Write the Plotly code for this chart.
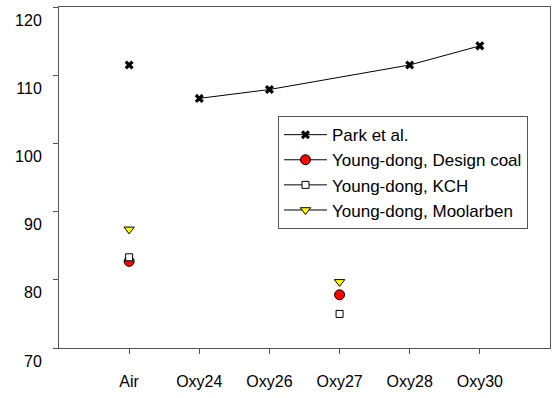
import plotly.graph_objects as go

categories = ["Air", "Oxy24", "Oxy26", "Oxy27", "Oxy28", "Oxy30"]
park = [111.5, 106.6, 107.9, None, 111.5, 114.3]
design_coal = [82.7, None, None, 77.8, None, None]
kch = [83.3, None, None, 75.0, None, None]
moolarben = [87.4, None, None, 79.7, None, None]
y_ticks = [70, 80, 90, 100, 110, 120]

FONT = "Liberation Sans, Arial, sans-serif"
fig = go.Figure()

# Park et al.: Air point shown on its own, oxy-fuel points joined by a line
fig.add_trace(go.Scatter(
    x=categories[1:], y=park[1:], mode="lines+markers", name="Park et al.",
    connectgaps=True, line=dict(color="black", width=1),
    marker=dict(symbol="x", size=8, color="black", line=dict(width=0))))
fig.add_trace(go.Scatter(
    x=categories[:1], y=park[:1], mode="markers", showlegend=False,
    marker=dict(symbol="x", size=8, color="black", line=dict(width=0))))

fig.add_trace(go.Scatter(
    x=categories, y=design_coal, mode="lines+markers", name="Young-dong, Design coal",
    line=dict(color="black", width=1),
    marker=dict(symbol="circle", size=10, color="red", line=dict(color="black", width=1))))
fig.add_trace(go.Scatter(
    x=categories, y=kch, mode="lines+markers", name="Young-dong, KCH",
    line=dict(color="black", width=1),
    marker=dict(symbol="square", size=7, color="white", line=dict(color="black", width=1))))
fig.add_trace(go.Scatter(
    x=categories, y=moolarben, mode="lines+markers", name="Young-dong, Moolarben",
    line=dict(color="black", width=1),
    marker=dict(symbol="triangle-down", size=9, color="yellow", line=dict(color="black", width=1))))

fig.update_layout(
    width=555, height=398,
    margin=dict(l=59, r=5, t=7, b=50),
    paper_bgcolor="white", plot_bgcolor="white",
    font=dict(family=FONT, size=16, color="black"),
    legend=dict(x=0.446, y=0.68, xanchor="left", yanchor="top",
                bordercolor="#555", borderwidth=1, bgcolor="white",
                font=dict(size=17), tracegroupgap=0, itemwidth=43),
)
fig.update_xaxes(type="category", categoryorder="array", categoryarray=categories,
                 range=[-1, 6], showgrid=False, zeroline=False,
                 showline=True, linecolor="#555", linewidth=1, mirror=True,
                 ticks="outside", ticklen=5, tickcolor="#555",
                 ticklabelstandoff=14)
fig.update_yaxes(range=[70, 120], tickvals=y_ticks, showgrid=False, zeroline=False,
                 showline=True, linecolor="#555", linewidth=1, mirror=True,
                 ticks="outside", ticklen=5, tickcolor="#555",
                 ticklabelstandoff=8, ticklabelshift=13)

fig.write_html("out.html", config={"displayModeBar": False},
               post_script="document.body.style.margin='0';")
